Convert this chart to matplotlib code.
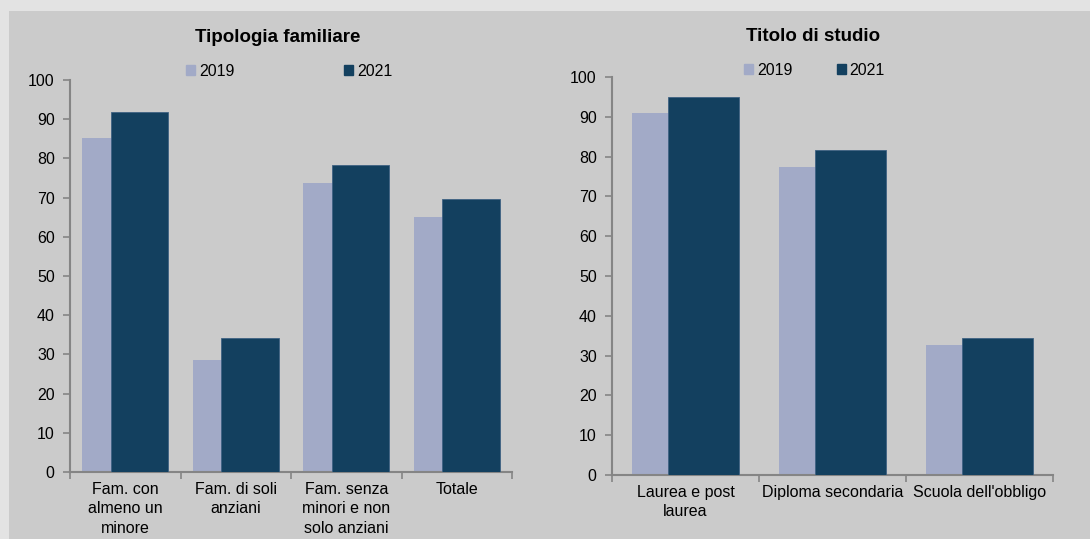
import matplotlib.pyplot as plt
import matplotlib.patches as mpatches
import numpy as np

plt.rcParams['font.family'] = ['Liberation Sans', 'DejaVu Sans']

# data
fam_cats = ["Fam. con\nalmeno un\nminore", "Fam. di soli\nanziani",
            "Fam. senza\nminori e non\nsolo anziani", "Totale"]
fam_2019 = [85.2, 28.6, 73.7, 65.0]
fam_2021 = [91.8, 34.2, 78.3, 69.6]

stu_cats = ["Laurea e post\nlaurea", "Diploma secondaria", "Scuola dell'obbligo"]
stu_2019 = [91.0, 77.4, 32.7]
stu_2021 = [94.9, 81.7, 34.3]

years = ["2019", "2021"]
c19 = "#a2aac7"
c21 = "#13405f"
bg = "#cbcbcb"
spine_c = "#858585"

W, H = 1090, 539
fig = plt.figure(figsize=(W / 100, H / 100), dpi=100, facecolor="#e3e3e3")
fig.patches.append(mpatches.Rectangle((9 / W, 0), 1, (H - 11) / H,
                                      transform=fig.transFigure,
                                      facecolor=bg, edgecolor="none", zorder=-10))


def px_box(x0, x1, ytop, ybot):
    return [x0 / W, (H - ybot) / H, (x1 - x0) / W, (ybot - ytop) / H]


def leg_x_y(ax, px, py):
    b = ax.get_position()
    return ((px / W - b.x0) / b.width, ((H - py) / H - b.y0) / b.height)


def panel(box, cats, v19, v21, width, off, title, title_xy, leg_x, leg_y, colsp):
    ax = fig.add_axes(box)
    ax.set_facecolor("none")
    x = np.arange(len(cats))
    ax.bar(x - off, v19, width, color=c19, zorder=2)
    ax.bar(x + off, v21, width, color=c21, edgecolor="#3f6283",
           linewidth=0.6, zorder=3)
    ax.set_xlim(-0.5, len(cats) - 0.5)
    ax.set_ylim(0, 100)
    ax.set_yticks(range(0, 101, 10))
    ax.set_xticks(x)
    ax.set_xticklabels(cats, fontsize=11.5, linespacing=1.38)
    ax.set_xticks(np.arange(-0.5, len(cats), 1), minor=True)
    ax.tick_params(axis="x", which="major", length=0, pad=7)
    ax.tick_params(axis="x", which="minor", length=5, color=spine_c, width=1.2)
    ax.tick_params(axis="y", length=5, color=spine_c, width=1.2, pad=6,
                   labelsize=11.5)
    for s in ["top", "right"]:
        ax.spines[s].set_visible(False)
    for s in ["left", "bottom"]:
        ax.spines[s].set_color(spine_c)
        ax.spines[s].set_linewidth(1.5)
    fig.text(title_xy[0] / W, (H - title_xy[1]) / H, title, fontsize=13.5,
             fontweight="bold", ha="center", va="center")
    handles = [mpatches.Patch(color=c19), mpatches.Patch(color=c21)]
    ax.legend(handles, years, ncol=2, frameon=False, fontsize=11.5,
              handlelength=0.55, handleheight=0.55, handletextpad=0.25,
              columnspacing=colsp, borderpad=0, borderaxespad=0,
              loc="center left", bbox_to_anchor=leg_x_y(ax, leg_x, leg_y))
    return ax


panel(px_box(70, 512, 80, 472), fam_cats, fam_2019, fam_2021, 0.52, 0.13,
      "Tipologia familiare", (278, 37), 186, 71, 6.9)
panel(px_box(612, 1053, 77, 475), stu_cats, stu_2019, stu_2021, 0.48, 0.122,
      "Titolo di studio", (813, 36), 744, 70, 2.8)

fig.savefig("out.png", dpi=100, facecolor=fig.get_facecolor())
